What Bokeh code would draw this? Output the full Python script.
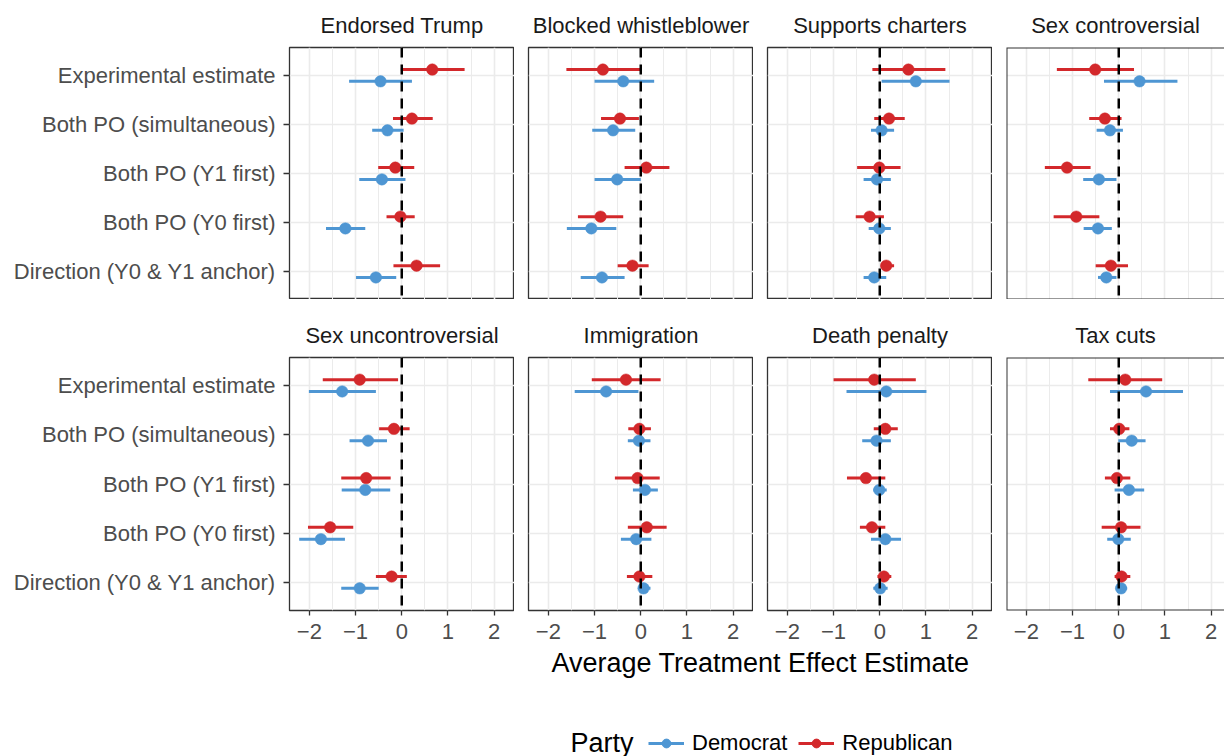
from bokeh.plotting import figure
from bokeh.layouts import row, column
from bokeh.models import (Range1d, FixedTicker, Span, ColumnDataSource, Label,
                          Legend, LegendItem, BoxAnnotation)
from bokeh.embed import file_html
from bokeh.resources import INLINE

# ---------------- data ----------------
panels = ["Endorsed Trump", "Blocked whistleblower", "Supports charters",
          "Sex controversial", "Sex uncontroversial", "Immigration",
          "Death penalty", "Tax cuts"]
categories = ["Experimental estimate", "Both PO (simultaneous)",
              "Both PO (Y1 first)", "Both PO (Y0 first)",
              "Direction (Y0 & Y1 anchor)"]
x_ticks = [-2, -1, 0, 1, 2]
x_minor_ticks = [-1.5, -0.5, 0.5, 1.5]
x_tick_labels = ["\u22122", "\u22121", "0", "1", "2"]
party_names = ["Democrat", "Republican"]
party_colors = ["#4E96D3", "#D3282B"]

rep_est = [[0.66, 0.22, -0.14, -0.03, 0.32],
           [-0.82, -0.45, 0.12, -0.87, -0.18],
           [0.62, 0.20, -0.01, -0.22, 0.14],
           [-0.51, -0.30, -1.12, -0.92, -0.17],
           [-0.91, -0.17, -0.77, -1.55, -0.22],
           [-0.32, -0.03, -0.07, 0.13, -0.03],
           [-0.12, 0.12, -0.30, -0.17, 0.09],
           [0.14, 0.01, -0.04, 0.05, 0.06]]
rep_lo = [[-0.02, -0.19, -0.51, -0.33, -0.18],
          [-1.61, -0.86, -0.35, -1.36, -0.50],
          [-0.16, -0.12, -0.49, -0.52, 0.02],
          [-1.34, -0.64, -1.60, -1.41, -0.50],
          [-1.71, -0.49, -1.31, -2.03, -0.56],
          [-1.06, -0.27, -0.56, -0.28, -0.30],
          [-1.00, -0.13, -0.71, -0.43, -0.05],
          [-0.66, -0.19, -0.30, -0.37, -0.09]]
rep_hi = [[1.36, 0.67, 0.27, 0.28, 0.83],
          [-0.01, -0.04, 0.62, -0.38, 0.17],
          [1.42, 0.54, 0.45, 0.09, 0.31],
          [0.33, 0.06, -0.61, -0.42, 0.20],
          [-0.08, 0.17, -0.24, -1.05, 0.11],
          [0.43, 0.22, 0.41, 0.56, 0.25],
          [0.78, 0.39, 0.12, 0.12, 0.25],
          [0.94, 0.23, 0.25, 0.47, 0.25]]
dem_est = [[-0.46, -0.31, -0.43, -1.22, -0.56],
           [-0.38, -0.60, -0.51, -1.07, -0.84],
           [0.78, 0.04, -0.06, -0.01, -0.12],
           [0.45, -0.19, -0.43, -0.45, -0.27],
           [-1.29, -0.73, -0.79, -1.75, -0.91],
           [-0.75, -0.04, 0.09, -0.10, 0.06],
           [0.14, -0.07, -0.01, 0.12, 0.01],
           [0.59, 0.28, 0.22, -0.01, 0.05]]
dem_lo = [[-1.14, -0.64, -0.92, -1.64, -0.99],
          [-1.00, -1.05, -1.00, -1.60, -1.30],
          [0.04, -0.19, -0.35, -0.24, -0.35],
          [-0.32, -0.48, -0.77, -0.76, -0.45],
          [-2.01, -1.13, -1.30, -2.22, -1.31],
          [-1.43, -0.28, -0.17, -0.43, -0.04],
          [-0.72, -0.38, -0.14, -0.19, -0.14],
          [-0.19, -0.01, -0.09, -0.25, -0.06]]
dem_hi = [[0.22, 0.04, 0.08, -0.79, -0.12],
          [0.29, -0.12, 0.00, -0.53, -0.35],
          [1.51, 0.31, 0.24, 0.24, 0.14],
          [1.27, 0.09, -0.05, -0.15, -0.05],
          [-0.56, -0.32, -0.25, -1.23, -0.50],
          [-0.05, 0.21, 0.37, 0.23, 0.21],
          [1.01, 0.24, 0.15, 0.46, 0.17],
          [1.39, 0.58, 0.55, 0.26, 0.18]]

# ---------------- style ----------------
FONT = "Liberation Sans"
GRID = "#EBEBEB"
BORDER = "#333333"
X0, X1 = -2.43, 2.44
Y0, Y1 = 0.43, 5.57
FRAME_W, FRAME_H = 225, 253
PX_PER_UNIT = FRAME_W / (X1 - X0)
DODGE = 0.12
cat_pos = [len(categories) - i for i in range(len(categories))]
series = [(dem_est, dem_lo, dem_hi, -DODGE), (rep_est, rep_lo, rep_hi, DODGE)]


def make_panel(k):
    rowi, col = divmod(k, 4)
    first_col = col == 0
    last_col = col == 3
    bottom_row = rowi == 1
    frame_w = 218 if last_col else FRAME_W
    x_end = X0 + frame_w / PX_PER_UNIT
    left = 289 if first_col else 14
    top = 46 if rowi == 0 else 58
    bottom = 38 if bottom_row else 0
    p = figure(width=left + frame_w, height=top + FRAME_H + bottom,
               x_range=Range1d(X0, x_end), y_range=Range1d(Y0, Y1),
               output_backend="svg", toolbar_location=None,
               min_border_left=left, min_border_right=0,
               min_border_top=top, min_border_bottom=bottom,
               x_axis_location="below" if bottom_row else None,
               y_axis_location="left" if first_col else None,
               title=panels[k])
    p.title.align = "center"
    p.title.text_font = FONT
    p.title.text_font_size = "22px"
    p.title.text_font_style = "normal"
    p.title.text_color = "#1A1A1A"
    p.title.standoff = 20
    p.background_fill_color = "white"
    p.border_fill_color = "white"
    if last_col:
        # panel is cut by the page edge: draw a border whose right side lies off-canvas
        p.outline_line_color = None
        p.add_layout(BoxAnnotation(left=X0, right=X1, bottom=Y0, top=Y1,
                                   fill_color=None, fill_alpha=0,
                                   line_color=BORDER, line_alpha=1.0,
                                   line_width=2.0))
    else:
        p.outline_line_color = BORDER
        p.outline_line_width = 1.3
        p.outline_line_alpha = 1

    p.xgrid.ticker = FixedTicker(ticks=x_ticks, minor_ticks=x_minor_ticks)
    p.xgrid.grid_line_color = GRID
    p.xgrid.grid_line_width = 1.6
    p.xgrid.minor_grid_line_color = GRID
    p.xgrid.minor_grid_line_width = 1.0
    p.ygrid.ticker = FixedTicker(ticks=cat_pos)
    p.ygrid.grid_line_color = GRID
    p.ygrid.grid_line_width = 1.6

    if bottom_row:
        ax = p.xaxis[0]
        ax.ticker = FixedTicker(ticks=x_ticks)
        ax.major_label_overrides = {t: lab for t, lab in zip(x_ticks, x_tick_labels)}
        ax.axis_line_color = None
        ax.major_tick_in = 0
        ax.major_tick_out = 5
        ax.major_tick_line_color = BORDER
        ax.major_tick_line_width = 1.3
        ax.minor_tick_line_color = None
        ax.major_label_text_font = FONT
        ax.major_label_text_font_size = "22px"
        ax.major_label_text_color = "#4D4D4D"
        ax.major_label_standoff = 8
    if first_col:
        ay = p.yaxis[0]
        ay.ticker = FixedTicker(ticks=cat_pos)
        ay.major_label_overrides = {pos: c for pos, c in zip(cat_pos, categories)}
        ay.axis_line_color = None
        ay.major_tick_in = 0
        ay.major_tick_out = 6
        ay.major_tick_line_color = BORDER
        ay.major_tick_line_width = 1.3
        ay.minor_tick_line_color = None
        ay.major_label_text_font = FONT
        ay.major_label_text_font_size = "22px"
        ay.major_label_text_color = "#4D4D4D"
        ay.major_label_standoff = 8

    for (est, lo, hi, off), color in zip(series, party_colors):
        src = ColumnDataSource(dict(est=est[k], lo=lo[k], hi=hi[k],
                                    y=[c + off for c in cat_pos]))
        p.segment(x0="lo", x1="hi", y0="y", y1="y", source=src,
                  line_color=color, line_width=3)
        p.scatter(x="est", y="y", source=src, size=11.5, fill_color=color,
                  line_color=color, line_width=0.5)

    p.add_layout(Span(location=0, dimension="height", line_color="black",
                      line_width=2.5, line_dash="10 7"))
    return p


figs = [make_panel(k) for k in range(len(panels))]

# bottom strip with axis title and legend
bf = figure(width=1224, height=108, x_range=Range1d(0, 1224), y_range=Range1d(0, 108),
            output_backend="svg", toolbar_location=None, min_border=0,
            x_axis_location=None, y_axis_location=None)
bf.outline_line_color = None
bf.xgrid.visible = False
bf.ygrid.visible = False
bf.add_layout(Label(x=760, y=94, text="Average Treatment Effect Estimate",
                    text_align="center", text_baseline="middle",
                    text_font=FONT, text_font_size="27px", text_color="black"))
bf.add_layout(Label(x=570, y=14, text="Party", text_align="left",
                    text_baseline="middle", text_font=FONT,
                    text_font_size="27px", text_color="black"))
nan = float("nan")
items = []
for name, color in zip(party_names, party_colors):
    ln = bf.line(x=[nan], y=[nan], line_color=color, line_width=3)
    pt = bf.scatter(x=[nan], y=[nan], size=11, fill_color=color, line_color=color)
    items.append(LegendItem(label=name, renderers=[ln, pt]))
leg = Legend(items=items, orientation="horizontal", location=(648, 0),
             glyph_width=36, glyph_height=22, label_standoff=8, spacing=11,
             padding=0, margin=0, border_line_color=None,
             background_fill_alpha=0, label_text_font=FONT,
             label_text_font_size="22px", label_text_color="black")
bf.add_layout(leg)

layout = column(row(*figs[:4]), row(*figs[4:]), bf)
open("out.html", "w").write(file_html(layout, INLINE))
